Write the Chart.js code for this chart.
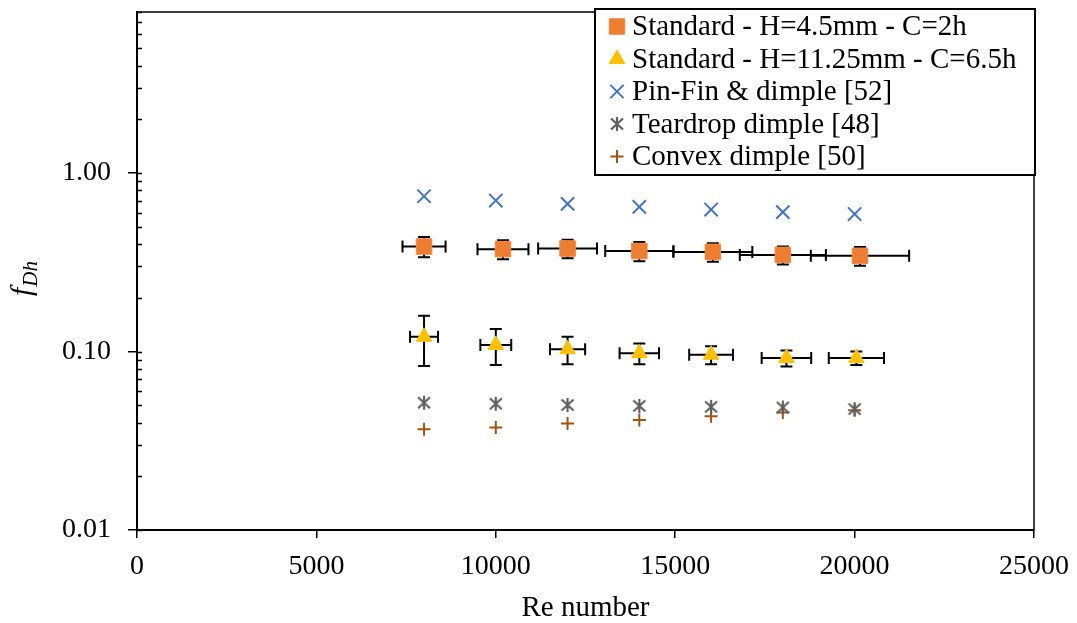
<!DOCTYPE html>
<html>
<head>
<meta charset="utf-8">
<script src="https://cdn.jsdelivr.net/npm/chart.js@4.4.1/dist/chart.umd.min.js"></script>
<style>
  html, body { margin: 0; padding: 0; background: #fff; }
  #wrap { width: 1077px; height: 623px; position: relative; }
</style>
</head>
<body>
<div id="wrap"><canvas id="chart"></canvas></div>
<script>
// Standard - H=4.5mm - C=2h (with error bars)
const reStd45 = [8000, 10200, 12000, 14000, 16050, 18000, 20150];
const fStd45 = [0.388, 0.375, 0.378, 0.366, 0.362, 0.348, 0.344];
const reErrStd45 = [600, 710, 820, 950, 1100, 1200, 1370];
const fErrStd45 = [0.050, 0.046, 0.045, 0.045, 0.043, 0.040, 0.041];

// Standard - H=11.25mm - C=6.5h (with error bars)
const reStd1125 = [8000, 10000, 12000, 14000, 16000, 18100, 20050];
const fStd1125 = [0.121, 0.109, 0.103, 0.098, 0.096, 0.092, 0.092];
const reErrStd1125 = [390, 430, 490, 550, 610, 690, 770];
const fErrStd1125 = [0.038, 0.025, 0.018, 0.013, 0.011, 0.0095, 0.008];

// literature data
const reLit = [8000, 10000, 12000, 14000, 16000, 18000, 20000];
const fPinFin = [0.742, 0.702, 0.673, 0.647, 0.625, 0.605, 0.590];
const fTeardrop = [0.0517, 0.0510, 0.0502, 0.0496, 0.0490, 0.0486, 0.0476];
const fConvex = [0.0367, 0.0375, 0.0395, 0.0414, 0.0434, 0.0455, 0.0469];

const yTickValues = [0.01, 0.1, 1];
const xMin = 0, xMax = 25000, xStep = 5000;
const yMin = 0.01, yMax = 8;

const FONT = '"Liberation Serif", "Times New Roman", serif';

const toPoints = (xs, ys) => xs.map((x, i) => ({ x: x, y: ys[i] }));

// asterisk marker like Excel's (x with a vertical stroke)
function makeAsterisk(color) {
    const c = document.createElement('canvas');
    c.width = 16; c.height = 16;
    const g = c.getContext('2d');
    g.strokeStyle = color;
    g.lineWidth = 2.2;
    g.beginPath();
    g.moveTo(2, 2.5); g.lineTo(14, 13.5);
    g.moveTo(14, 2.5); g.lineTo(2, 13.5);
    g.moveTo(8, 1); g.lineTo(8, 15);
    g.stroke();
    return c;
}

const errorBars = {
    id: 'errorBars',
    beforeDatasetsDraw(chart) {
        const ctx = chart.ctx;
        const xs = chart.scales.x, ys = chart.scales.y;
        const cap = 6;
        ctx.save();
        ctx.strokeStyle = '#000';
        ctx.lineWidth = 2;
        chart.data.datasets.forEach(ds => {
            if (!ds.errX) return;
            ds.data.forEach((p, i) => {
                const px = xs.getPixelForValue(p.x);
                const py = ys.getPixelForValue(p.y);
                const x1 = xs.getPixelForValue(p.x - ds.errX[i]);
                const x2 = xs.getPixelForValue(p.x + ds.errX[i]);
                const y1 = ys.getPixelForValue(p.y + ds.errY[i]);
                const y2 = ys.getPixelForValue(p.y - ds.errY[i]);
                ctx.beginPath();
                ctx.moveTo(x1, py); ctx.lineTo(x2, py);
                ctx.moveTo(x1, py - cap); ctx.lineTo(x1, py + cap);
                ctx.moveTo(x2, py - cap); ctx.lineTo(x2, py + cap);
                ctx.moveTo(px, y1); ctx.lineTo(px, y2);
                ctx.moveTo(px - cap, y1); ctx.lineTo(px + cap, y1);
                ctx.moveTo(px - cap, y2); ctx.lineTo(px + cap, y2);
                ctx.stroke();
            });
        });
        ctx.restore();
    }
};

const frame = {
    id: 'frame',
    beforeDatasetsDraw(chart) {
        const ctx = chart.ctx;
        const a = chart.chartArea;
        const ys = chart.scales.y;
        ctx.save();
        ctx.strokeStyle = '#000';
        ctx.lineWidth = 1.5;
        ctx.strokeRect(a.left, a.top, a.right - a.left, a.bottom - a.top);
        // log minor ticks, pointing inward
        ctx.beginPath();
        for (let d = -2; d <= 0; d++) {
            for (let m = 1; m <= 9; m++) {
                const v = m * Math.pow(10, d);
                if (v < yMin || v > yMax) continue;
                const py = Math.round(ys.getPixelForValue(v)) + 0.5;
                ctx.moveTo(a.left, py);
                ctx.lineTo(a.left + 5, py);
            }
        }
        ctx.stroke();
        // y axis title f_Dh
        ctx.translate(31, 275);
        ctx.rotate(-Math.PI / 2);
        ctx.fillStyle = '#000';
        ctx.textBaseline = 'alphabetic';
        ctx.font = 'italic 30px ' + FONT;
        ctx.fillText('f', -21, 0);
        const fw = ctx.measureText('f').width;
        ctx.font = 'italic 21px ' + FONT;
        ctx.fillText('Dh', -21 + fw + 1, 6);
        ctx.restore();
    }
};

const boxLegend = {
    id: 'boxLegend',
    afterDraw(chart) {
        const ctx = chart.ctx;
        const a = chart.chartArea;
        const w = 440, h = 166;
        const x0 = a.right + 1 - w, y0 = a.top - 3;
        ctx.save();
        ctx.fillStyle = '#fff';
        ctx.fillRect(x0, y0, w, h);
        ctx.strokeStyle = '#000';
        ctx.lineWidth = 2;
        ctx.strokeRect(x0, y0, w, h);
        chart.data.datasets.forEach((ds, i) => {
            const cy = y0 + 17.5 + i * 32.5;
            ctx.fillStyle = ds.backgroundColor;
            ctx.strokeStyle = ds.borderColor;
            ctx.lineWidth = ds.borderWidth;
            Chart.helpers.drawPoint(ctx, {
                pointStyle: ds.pointStyle,
                radius: ds.pointRadius,
                borderWidth: ds.borderWidth,
                rotation: 0
            }, x0 + 22, cy);
            ctx.fillStyle = '#000';
            ctx.font = '29px ' + FONT;
            ctx.textBaseline = 'middle';
            ctx.fillText(ds.label, x0 + 37, cy + 1);
        });
        ctx.restore();
    }
};

const noEdgePadding = scale => {
    scale.paddingTop = 0;
    scale.paddingBottom = 0;
    scale.paddingLeft = 0;
    scale.paddingRight = 0;
};

new Chart(document.getElementById('chart'), {
    type: 'scatter',
    data: {
        datasets: [
            {
                label: 'Standard - H=4.5mm - C=2h',
                data: toPoints(reStd45, fStd45),
                errX: reErrStd45,
                errY: fErrStd45,
                pointStyle: 'rect',
                pointRadius: 11,
                backgroundColor: '#ED7D31',
                borderColor: '#F08A45',
                borderWidth: 1
            },
            {
                label: 'Standard - H=11.25mm - C=6.5h',
                data: toPoints(reStd1125, fStd1125),
                errX: reErrStd1125,
                errY: fErrStd1125,
                pointStyle: 'triangle',
                pointRadius: 9,
                backgroundColor: '#FFC000',
                borderColor: '#FFC000',
                borderWidth: 1
            },
            {
                label: 'Pin-Fin & dimple [52]',
                data: toPoints(reLit, fPinFin),
                pointStyle: 'crossRot',
                pointRadius: 9.4,
                backgroundColor: '#4472C4',
                borderColor: '#4472C4',
                borderWidth: 2
            },
            {
                label: 'Teardrop dimple [48]',
                data: toPoints(reLit, fTeardrop),
                pointStyle: makeAsterisk('#5F5F5F'),
                pointRadius: 8,
                backgroundColor: '#5F5F5F',
                borderColor: '#5F5F5F',
                borderWidth: 2
            },
            {
                label: 'Convex dimple [50]',
                data: toPoints(reLit, fConvex),
                pointStyle: 'cross',
                pointRadius: 6.5,
                backgroundColor: '#A5510F',
                borderColor: '#A5510F',
                borderWidth: 2
            }
        ]
    },
    options: {
        responsive: true,
        maintainAspectRatio: false,
        animation: false,
        layout: { padding: { top: 9, right: 43, left: 0, bottom: 0 } },
        plugins: {
            legend: { display: false },
            tooltip: { enabled: false }
        },
        scales: {
            x: {
                type: 'linear',
                min: xMin,
                max: xMax,
                afterFit: scale => { scale.height = 93; noEdgePadding(scale); },
                ticks: {
                    stepSize: xStep,
                    color: '#000',
                    padding: 12,
                    maxRotation: 0,
                    font: { family: FONT, size: 28 },
                    callback: v => String(v)
                },
                grid: {
                    display: true,
                    drawOnChartArea: false,
                    drawTicks: true,
                    tickLength: 8,
                    color: '#000',
                    lineWidth: 1.5
                },
                border: { display: true, color: '#000', width: 2 },
                title: {
                    display: true,
                    text: 'Re number',
                    color: '#000',
                    padding: { top: 0, bottom: -3 },
                    font: { family: FONT, size: 29 }
                }
            },
            y: {
                type: 'logarithmic',
                min: yMin,
                max: yMax,
                afterFit: scale => { scale.width = 137; noEdgePadding(scale); },
                afterBuildTicks: scale => {
                    scale.ticks = yTickValues.map(v => ({ value: v }));
                },
                ticks: {
                    color: '#000',
                    padding: 17,
                    font: { family: FONT, size: 28 },
                    callback: v => Number(v).toFixed(2)
                },
                grid: {
                    display: true,
                    drawOnChartArea: false,
                    drawTicks: true,
                    tickLength: 9,
                    color: '#000',
                    lineWidth: 1.5
                },
                border: { display: true, color: '#000', width: 2 }
            }
        }
    },
    plugins: [frame, errorBars, boxLegend]
});
</script>
</body>
</html>
